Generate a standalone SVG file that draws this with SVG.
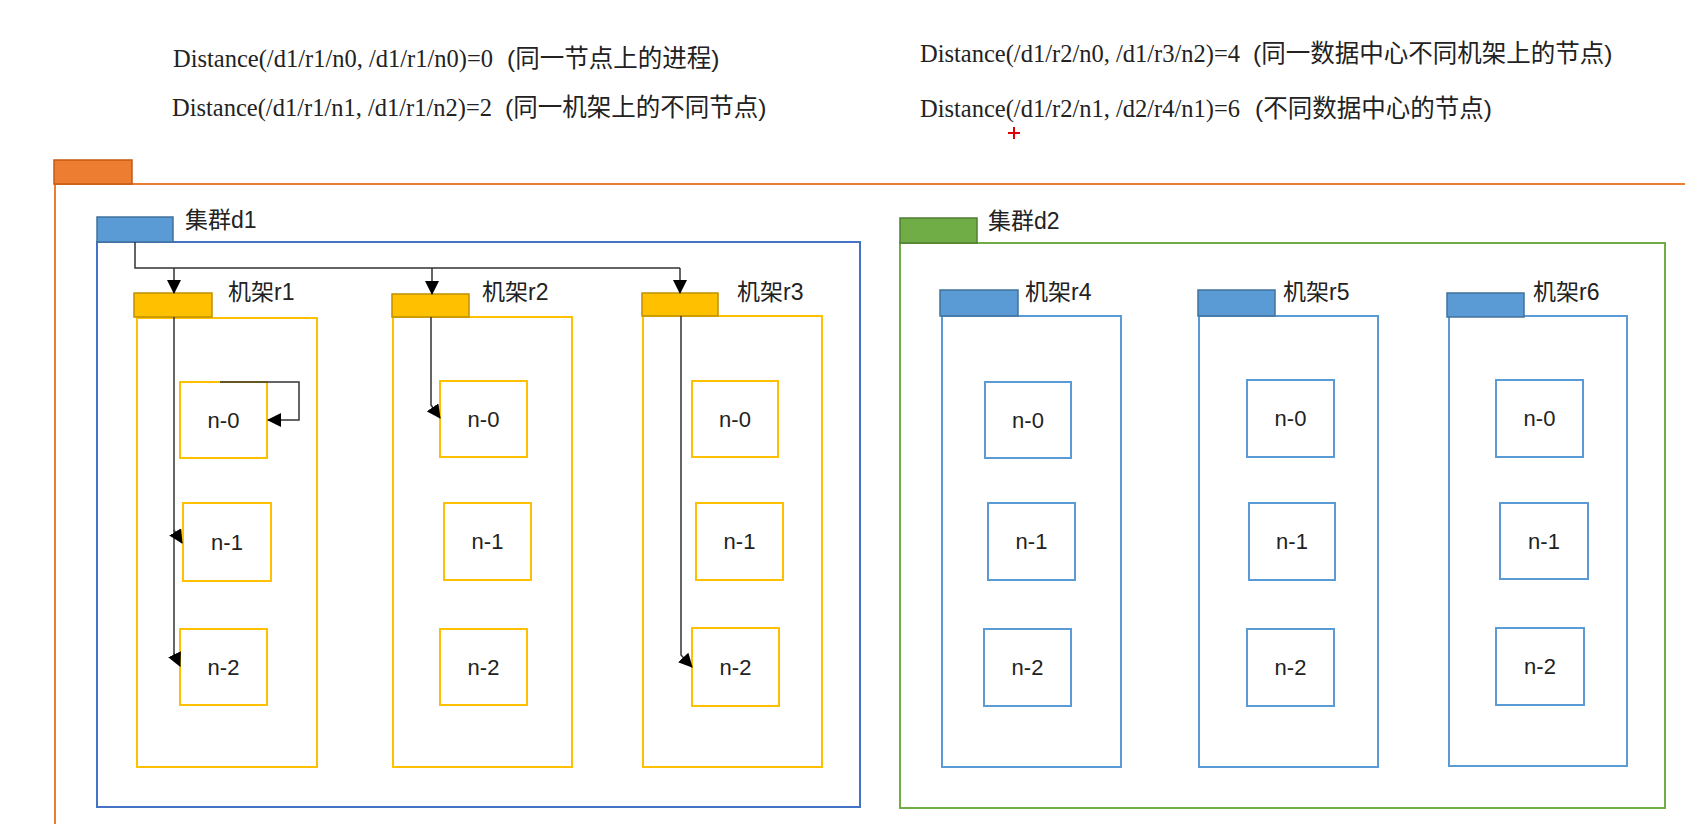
<svg xmlns="http://www.w3.org/2000/svg" width="1685" height="824" viewBox="0 0 1685 824">
<style>
.lat{font-family:"Liberation Serif","Noto Sans CJK SC",serif;font-size:24.5px;fill:#222}
.cjk{font-family:"Liberation Sans","Noto Sans CJK SC",sans-serif;font-size:24.5px;fill:#222}
.lbl{font-family:"Liberation Sans","Noto Sans CJK SC",sans-serif;font-size:23px;fill:#222}
.nt{font-family:"Liberation Sans","Noto Sans CJK SC",sans-serif;font-size:22px;fill:#222;text-anchor:middle}
.ybox{fill:none;stroke:#FFC000;stroke-width:2}
.bbox{fill:none;stroke:#5B9BD5;stroke-width:2}
.ytab{fill:#FFC000;stroke:#BF9000;stroke-width:1.5}
.btab{fill:#5B9BD5;stroke:#41719C;stroke-width:1.5}
.conn{fill:none;stroke:#333;stroke-width:1.5}
</style>
<defs>
<marker id="arr" markerUnits="userSpaceOnUse" markerWidth="14" markerHeight="14" viewBox="0 0 14 14" refX="13" refY="7" orient="auto">
<path d="M0,0 L14,7 L0,14 Z" fill="#000"/>
</marker>
</defs>
<rect width="1685" height="824" fill="#fff"/>

<g id="formulas">
<text class="lat" x="173" y="67">Distance(/d1/r1/n0, /d1/r1/n0)=0<tspan class="cjk" x="507">(同一节点上的进程)</tspan></text>
<text class="lat" x="172" y="116">Distance(/d1/r1/n1, /d1/r1/n2)=2<tspan class="cjk" x="505">(同一机架上的不同节点)</tspan></text>
<text class="lat" x="920" y="62">Distance(/d1/r2/n0, /d1/r3/n2)=4<tspan class="cjk" x="1253">(同一数据中心不同机架上的节点)</tspan></text>
<text class="lat" x="920" y="117">Distance(/d1/r2/n1, /d2/r4/n1)=6<tspan class="cjk" x="1255">(不同数据中心的节点)</tspan></text>
<path d="M1008,133 H1020 M1014,127 V139" stroke="#E00000" stroke-width="2"/>
</g>

<g id="root">
<rect x="55" y="184" width="1700" height="700" fill="none" stroke="#ED7D31" stroke-width="2"/>
<rect x="54" y="160" width="78" height="24" fill="#ED7D31" stroke="#C55A11" stroke-width="1.5"/>
</g>

<g id="cluster-d1">
<rect x="97" y="242" width="763" height="565" fill="none" stroke="#4472C4" stroke-width="2"/>
<rect x="97" y="217" width="76" height="25" class="btab"/>
<text class="lbl" x="185" y="228">集群d1</text>
</g>

<g id="cluster-d2">
<rect x="900" y="243" width="765" height="565" fill="none" stroke="#70AD47" stroke-width="2"/>
<rect x="900" y="218" width="77" height="25" fill="#70AD47" stroke="#507E32" stroke-width="1.5"/>
<text class="lbl" x="988" y="229">集群d2</text>
</g>

<g id="rack-r1">
<rect x="137" y="318" width="180" height="449" class="ybox"/>
<rect x="134" y="293" width="78" height="24" class="ytab"/>
<text class="lbl" x="228" y="300">机架r1</text>
</g>
<g id="rack-r2">
<rect x="393" y="317" width="179" height="450" class="ybox"/>
<rect x="392" y="294" width="77" height="23" class="ytab"/>
<text class="lbl" x="482" y="300">机架r2</text>
</g>
<g id="rack-r3">
<rect x="643" y="316" width="179" height="451" class="ybox"/>
<rect x="642" y="293" width="76" height="23" class="ytab"/>
<text class="lbl" x="737" y="300">机架r3</text>
</g>
<g id="rack-r4">
<rect x="942" y="316" width="179" height="451" class="bbox"/>
<rect x="940" y="290" width="78" height="26" class="btab"/>
<text class="lbl" x="1025" y="300">机架r4</text>
</g>
<g id="rack-r5">
<rect x="1199" y="316" width="179" height="451" class="bbox"/>
<rect x="1198" y="290" width="77" height="26" class="btab"/>
<text class="lbl" x="1283" y="300">机架r5</text>
</g>
<g id="rack-r6">
<rect x="1449" y="316" width="178" height="450" class="bbox"/>
<rect x="1447" y="293" width="77" height="24" class="btab"/>
<text class="lbl" x="1533" y="300">机架r6</text>
</g>

<g id="r1-n0"><rect x="180" y="382" width="87" height="76" class="ybox"/><text class="nt" x="223.5" y="428">n-0</text></g>
<g id="r1-n1"><rect x="183" y="503" width="88" height="78" class="ybox"/><text class="nt" x="227" y="550">n-1</text></g>
<g id="r1-n2"><rect x="180" y="629" width="87" height="76" class="ybox"/><text class="nt" x="223.5" y="675">n-2</text></g>
<g id="r2-n0"><rect x="440" y="381" width="87" height="76" class="ybox"/><text class="nt" x="483.5" y="427">n-0</text></g>
<g id="r2-n1"><rect x="444" y="503" width="87" height="77" class="ybox"/><text class="nt" x="487.5" y="549">n-1</text></g>
<g id="r2-n2"><rect x="440" y="629" width="87" height="76" class="ybox"/><text class="nt" x="483.5" y="675">n-2</text></g>
<g id="r3-n0"><rect x="692" y="381" width="86" height="76" class="ybox"/><text class="nt" x="735" y="427">n-0</text></g>
<g id="r3-n1"><rect x="696" y="503" width="87" height="77" class="ybox"/><text class="nt" x="739.5" y="549">n-1</text></g>
<g id="r3-n2"><rect x="692" y="628" width="87" height="78" class="ybox"/><text class="nt" x="735.5" y="675">n-2</text></g>

<g id="r4-n0"><rect x="985" y="382" width="86" height="76" class="bbox"/><text class="nt" x="1028" y="428">n-0</text></g>
<g id="r4-n1"><rect x="988" y="503" width="87" height="77" class="bbox"/><text class="nt" x="1031.5" y="549">n-1</text></g>
<g id="r4-n2"><rect x="984" y="629" width="87" height="77" class="bbox"/><text class="nt" x="1027.5" y="675">n-2</text></g>
<g id="r5-n0"><rect x="1247" y="380" width="87" height="77" class="bbox"/><text class="nt" x="1290.5" y="426">n-0</text></g>
<g id="r5-n1"><rect x="1249" y="503" width="86" height="77" class="bbox"/><text class="nt" x="1292" y="549">n-1</text></g>
<g id="r5-n2"><rect x="1247" y="629" width="87" height="77" class="bbox"/><text class="nt" x="1290.5" y="675">n-2</text></g>
<g id="r6-n0"><rect x="1496" y="380" width="87" height="77" class="bbox"/><text class="nt" x="1539.5" y="426">n-0</text></g>
<g id="r6-n1"><rect x="1500" y="503" width="88" height="76" class="bbox"/><text class="nt" x="1544" y="549">n-1</text></g>
<g id="r6-n2"><rect x="1496" y="628" width="88" height="77" class="bbox"/><text class="nt" x="1540" y="674">n-2</text></g>

<g id="connectors">
<path class="conn" d="M135,242 V268 H680"/>
<path class="conn" d="M174,268 V293" marker-end="url(#arr)"/>
<path class="conn" d="M432,268 V294" marker-end="url(#arr)"/>
<path class="conn" d="M680,268 V293" marker-end="url(#arr)"/>
<path class="conn" d="M220,382 H299 V420 H268" marker-end="url(#arr)"/>
<path class="conn" d="M174,317 V655"/>
<path class="conn" d="M174,530 L182,543" marker-end="url(#arr)"/>
<path class="conn" d="M174,653 L180,666" marker-end="url(#arr)"/>
<path class="conn" d="M431,317 V405 L440,418" marker-end="url(#arr)"/>
<path class="conn" d="M681,316 V655 L692,667" marker-end="url(#arr)"/>
</g>
</svg>
